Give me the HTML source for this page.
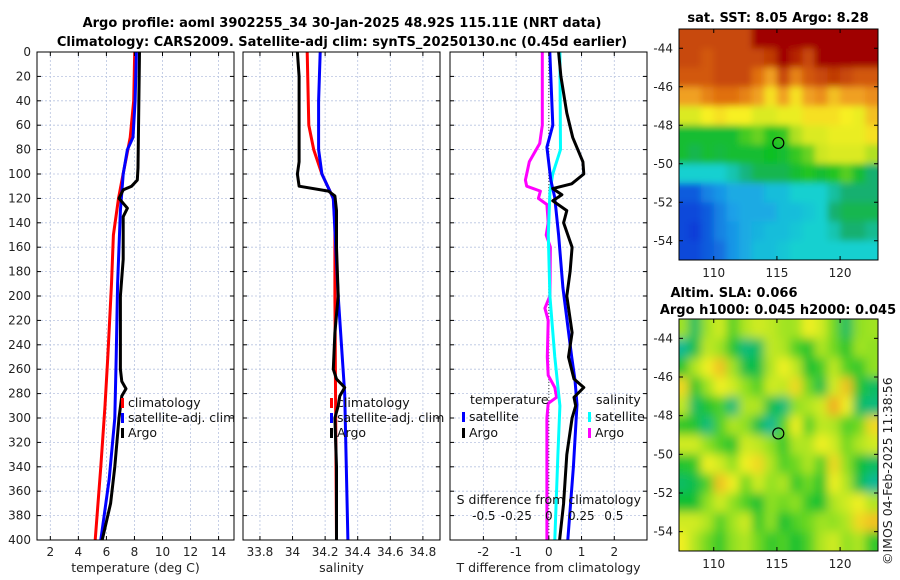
<!DOCTYPE html>
<html><head><meta charset="utf-8"><style>
body{margin:0;background:#fff;}
svg{display:block;font-family:"DejaVu Sans","Liberation Sans",sans-serif;}
</style></head><body>
<svg id="c" width="900" height="580" viewBox="0 0 900 580" xmlns="http://www.w3.org/2000/svg">
<defs>
<filter id="blr" x="0" y="0" width="1" height="1"><feGaussianBlur stdDeviation="5"/></filter>
<filter id="blr2" x="0" y="0" width="1" height="1"><feGaussianBlur stdDeviation="3.5"/></filter>
<clipPath id="clipTop"><rect x="679" y="29" width="199" height="231"/></clipPath>
<clipPath id="clipBot"><rect x="679" y="319" width="199" height="232"/></clipPath>
</defs>
<text x="342" y="27" text-anchor="middle" font-size="13" font-weight="bold">Argo profile: aoml 3902255_34 30-Jan-2025 48.92S 115.11E (NRT data)</text>
<text x="342" y="46" text-anchor="middle" font-size="13" font-weight="bold">Climatology: CARS2009. Satellite-adj clim: synTS_20250130.nc (0.45d earlier)</text>
<text x="778" y="22" text-anchor="middle" font-size="13" font-weight="bold">sat. SST: 8.05 Argo: 8.28</text>
<text x="734" y="297" text-anchor="middle" font-size="13" font-weight="bold">Altim. SLA: 0.066</text>
<text x="778" y="314" text-anchor="middle" font-size="13" font-weight="bold">Argo h1000: 0.045 h2000: 0.045</text>
<text transform="translate(892,565) rotate(-90)" font-size="12.5" fill="#222">©IMOS 04-Feb-2025 11:38:56</text>
<g id="g"></g>
</svg>
<script>
// ---------- data ----------
const depthTicks=[0,20,40,60,80,100,120,140,160,180,200,220,240,260,280,300,320,340,360,380,400];
const tempTicks=[2,4,6,8,10,12,14];
const salTicks=[33.8,34,34.2,34.4,34.6,34.8];
const tdiffTicks=[-2,-1,0,1,2];
const sdiffTicks=[-0.5,-0.25,0,0.25,0.5];
const sdiffTickLabels=["-0.5","-0.25","0","0.25","0.5"];

const climTDepth=[0,40,70,85,100,120,150,190,250,290,340,400];
const climTVal=[8.02,7.95,7.7,7.45,7.19,6.86,6.5,6.36,6.1,5.9,5.6,5.2];
const satTDepth=[0,40,70,80,100,130,190,250,300,350,400];
const satTVal=[8.14,8.05,7.9,7.5,7.2,7.0,6.8,6.7,6.6,6.2,5.6];
const argoTDepth=[0,50,95,105,110,113,120,128,135,140,170,200,240,260,270,276,282,300,340,370,400];
const argoTVal=[8.36,8.3,8.25,8.2,7.8,7.2,6.9,7.5,7.2,7.2,7.2,7.0,7.0,7.0,7.1,7.4,7.1,6.9,6.6,6.3,5.7];

const climSDepth=[0,60,80,100,120,140,200,300,400];
const climSVal=[34.09,34.1,34.13,34.18,34.25,34.26,34.26,34.265,34.27];
const satSDepth=[0,40,80,100,120,200,280,340,400];
const satSVal=[34.17,34.16,34.16,34.18,34.25,34.28,34.32,34.33,34.34];
const argoSDepth=[0,20,60,90,100,110,114,118,130,160,200,230,260,268,275,282,290,300,340,400];
const argoSVal=[34.03,34.04,34.04,34.04,34.03,34.04,34.22,34.26,34.27,34.27,34.28,34.26,34.25,34.27,34.32,34.29,34.28,34.26,34.27,34.27];

const dSatTDepth=[0,60,78,105,119,150,193,250,269,289,340,400];
const dSatTVal=[0.03,0.12,-0.06,0.06,0.18,0.3,0.43,0.7,0.8,0.86,0.75,0.58];
const dSatSDepth=[0,80,100,115,150,200,250,290,330,400];
const dSatSVal=[0.085,0.09,0.03,0.008,-0.004,0.008,0.046,0.085,0.07,0.046];
const dArgoTDepth=[0,20,50,70,90,100,108,112,117,122,130,140,160,180,200,230,250,268,275,283,290,300,330,370,400];
const dArgoTVal=[0.3,0.37,0.55,0.73,1.04,1.07,0.7,0.12,0.4,0.12,0.55,0.45,0.71,0.65,0.55,0.71,0.6,0.77,1.07,0.77,0.82,0.71,0.55,0.45,0.33];
const dArgoSDepth=[0,60,75,90,100,105,110,114,120,125,140,150,160,200,210,220,250,265,275,283,288,300,400];
const dArgoSVal=[-0.05,-0.05,-0.07,-0.15,-0.17,-0.18,-0.17,-0.065,-0.08,-0.015,-0.005,-0.02,0.012,0.008,-0.03,-0.005,-0.012,-0.005,0.046,0.06,-0.005,-0.015,-0.015];

const mapLons=[107,108,109,110,111,112,113,114,115,116,117,118,119,120,121,122];
const mapLats=[-43,-44,-45,-46,-47,-48,-49,-50,-51,-52,-53,-54];
const sstGrid=[
[11,11,11,11,11,11,12,12,12,12,12,12,12,12,12,12],
[11,11,10.8,11,11,11,11,11.2,12,11.5,11,12,12,12,12,12],
[10.8,10.8,10.8,11,11,11,10.5,10,11,10.3,10.8,11,11.2,11,10.8,10.8],
[10,10,10.3,10.5,10.5,10.3,10,9.6,10,9.6,10,10.2,9.8,10,10,10.2],
[9.3,9.3,9.5,9.6,9.5,9.5,9.3,9.3,9.4,9.4,9.6,9.6,9.6,9.5,9.4,9.8],
[8,8,8,8,8,8.4,8.6,8.2,8.3,9,9.3,9.3,9.4,9.4,9.4,9.6],
[8,7.8,8,7.9,8,8,8,8.1,8,8.3,8.6,9.2,9.3,9.3,9.3,9],
[7,7,7,7,7.2,7.5,7.8,7.8,7.8,8,8.2,8,8.2,8.5,8,7.6],
[5.8,5.8,6.2,6.4,6.6,6.6,6.6,6.8,6.8,7,7,7,7.3,7.6,7.6,7.6],
[5.6,5.6,5.8,6.2,6.5,6.6,6.6,6.6,6.8,6.8,6.9,7,7.6,7.8,7.8,7.8],
[5.6,5.5,5.8,6.2,6.4,6.6,6.7,6.8,6.8,6.9,7,7,7.2,7.6,7.6,7.4],
[5.6,5.6,5.8,6,6.4,6.6,6.8,6.8,6.9,7,7,7,7,7,7,7]];
const slaGrid=[
[0.03,-0.1,0.03,0.06,-0.02,0.04,0.06,0.05,0.03,0.03,0.08,0.06,0.0,-0.1,0.02,0.03],
[-0.14,-0.08,0.05,0.03,-0.05,-0.12,-0.1,0.05,0.04,-0.02,-0.05,0.04,0.0,-0.05,0.03,0.02],
[-0.05,0.04,0.08,0.12,0.03,-0.08,-0.08,0.04,0.08,0.05,-0.06,-0.03,0.05,-0.02,-0.04,0.02],
[0.1,-0.05,0.03,0.08,0.06,0.02,-0.02,0.06,0.05,0.1,0.0,-0.08,0.06,0.12,-0.05,-0.1],
[0.05,-0.1,-0.05,-0.02,-0.12,0.04,0.04,-0.08,-0.12,0.02,0.04,0.06,0.14,0.08,-0.1,-0.12],
[-0.04,-0.05,-0.12,-0.02,0.04,0.02,-0.08,-0.14,-0.02,0.08,-0.02,0.05,0.04,-0.02,0.0,0.1],
[0.06,0.06,0.02,-0.02,-0.05,0.06,0.05,0.02,-0.04,0.04,0.04,0.08,0.06,0.0,0.04,0.06],
[-0.05,-0.04,0.08,0.06,0.02,0.08,0.1,0.04,-0.02,0.0,0.04,-0.02,0.1,0.02,-0.06,-0.1],
[-0.1,-0.08,-0.02,0.12,0.08,0.0,0.06,0.02,0.04,-0.04,0.0,-0.05,0.08,0.04,-0.08,-0.14],
[-0.06,-0.06,0.02,0.06,0.02,-0.02,-0.06,0.02,0.0,0.02,-0.04,-0.06,0.04,0.06,0.08,0.04],
[0.06,0.06,0.04,-0.02,0.03,0.06,-0.04,0.02,-0.06,-0.02,0.0,0.03,0.02,0.04,0.1,0.12],
[0.08,0.04,0.0,-0.04,0.02,0.04,0.0,-0.04,-0.02,-0.06,-0.02,0.04,0.06,0.02,0.04,-0.04]];
const mapLatTicks=[-44,-46,-48,-50,-52,-54];
const mapLonTicks=[110,115,120];
const argoLon=115.11, argoLat=-48.92;

// ---------- helpers ----------
const NS="http://www.w3.org/2000/svg";
const G=document.getElementById('g');
function mk(tag,attrs,parent){const e=document.createElementNS(NS,tag);for(const k in attrs)e.setAttribute(k,attrs[k]);(parent||G).appendChild(e);return e;}
const PY0=52,PY1=540;
const yD=d=>PY0+(d/400)*(PY1-PY0);
const panels=[{x0:37,x1:234,lo:1.05,hi:15.1},{x0:243,x1:440,lo:33.696,hi:34.905},{x0:450,x1:647,lo:-3.02,hi:3.0}];
const xT=t=>panels[0].x0+(t-panels[0].lo)/(panels[0].hi-panels[0].lo)*(panels[0].x1-panels[0].x0);
const xS=s=>panels[1].x0+(s-panels[1].lo)/(panels[1].hi-panels[1].lo)*(panels[1].x1-panels[1].x0);
const xDT=v=>panels[2].x0+(v-panels[2].lo)/(panels[2].hi-panels[2].lo)*(panels[2].x1-panels[2].x0);
const xDS=v=>xDT(0)+v*130;

function grid(p,ticks,fx,name){
  const g=mk('g',{});
  
  
  ticks.forEach(t=>{const x=fx(t);mk('line',{x1:x,x2:x,y1:PY0,y2:PY1,stroke:'#b8c4e0','stroke-width':0.8,'stroke-dasharray':'2,2'},g);});
  depthTicks.forEach(d=>{const y=yD(d);mk('line',{x1:p.x0,x2:p.x1,y1:y,y2:y,stroke:'#b8c4e0','stroke-width':0.8,'stroke-dasharray':'2,2'},g);});
}
function frame(p,ticks,fx,labels,name,title){
  const g=mk('g',{});
  
  
  mk('rect',{x:p.x0,y:PY0,width:p.x1-p.x0,height:PY1-PY0,fill:'none',stroke:'#000','stroke-width':1},g);
  ticks.forEach((t,i)=>{const x=fx(t);
    mk('line',{x1:x,x2:x,y1:PY1,y2:PY1-4,stroke:'#000'},g);mk('line',{x1:x,x2:x,y1:PY0,y2:PY0+4,stroke:'#000'},g);
    const tx=mk('text',{x:x,y:556,'text-anchor':'middle','font-size':12,fill:'#222'},g);tx.textContent=labels[i];
    
    });
  depthTicks.forEach(d=>{const y=yD(d);mk('line',{x1:p.x0,x2:p.x0+4,y1:y,y2:y,stroke:'#000'},g);mk('line',{x1:p.x1,x2:p.x1-4,y1:y,y2:y,stroke:'#000'},g);});
  const tt=mk('text',{x:(p.x0+p.x1)/2,y:572,'text-anchor':'middle','font-size':12.5,fill:'#222'},g);tt.textContent=title;
  
  
}
function line(ds,vs,fx,color,name,w){
  const pts=ds.map((d,i)=>fx(vs[i]).toFixed(1)+','+yD(d).toFixed(1)).join(' ');
  const e=mk('polyline',{points:pts,fill:'none',stroke:color,'stroke-width':w||3,'stroke-linejoin':'round'});
  
  
}
function legend(x,y,color,label,name){
  const g=mk('g',{});
  
  
  mk('rect',{x:x,y:y-9,width:3,height:10,fill:color},g);
  const t=mk('text',{x:x+7,y:y,'font-size':12.5,fill:'#111'},g);t.textContent=label;
}

// ---------- profile panels ----------
grid(panels[0],tempTicks,xT,'temperature');
grid(panels[1],salTicks,xS,'salinity');
grid(panels[2],tdiffTicks,xDT,'difference');
mk('line',{x1:xDT(0),x2:xDT(0),y1:PY0,y2:PY1,stroke:'#444','stroke-width':1,'stroke-dasharray':'1,2'});

line(climTDepth,climTVal,xT,'#ff0000','temp-climatology-line');
line(satTDepth,satTVal,xT,'#0000ff','temp-satellite-adj-line');
line(argoTDepth,argoTVal,xT,'#000000','temp-argo-line');
line(climSDepth,climSVal,xS,'#ff0000','sal-climatology-line');
line(satSDepth,satSVal,xS,'#0000ff','sal-satellite-adj-line');
line(argoSDepth,argoSVal,xS,'#000000','sal-argo-line');
line(dArgoSDepth,dArgoSVal,xDS,'#ff00ff','sdiff-argo-line');
line(dSatSDepth,dSatSVal,xDS,'#00ffff','sdiff-satellite-line');
line(dSatTDepth,dSatTVal,xDT,'#0000ff','tdiff-satellite-line');
line(dArgoTDepth,dArgoTVal,xDT,'#000000','tdiff-argo-line');

frame(panels[0],tempTicks,xT,tempTicks.map(String),'temperature','temperature (deg C)');
frame(panels[1],salTicks,xS,salTicks.map(String),'salinity','salinity');
frame(panels[2],tdiffTicks,xDT,tdiffTicks.map(String),'tdiff','T difference from climatology');
depthTicks.forEach(d=>{const t=mk('text',{x:31,y:yD(d)+4,'text-anchor':'end','font-size':12,fill:'#222'});t.textContent=d;
  
  });
{const t=mk('text',{x:xDT(0),y:504,'text-anchor':'middle','font-size':12.5,fill:'#111'});t.textContent='S difference from climatology';
 
 }
sdiffTicks.forEach((v,i)=>{const t=mk('text',{x:xDS(v),y:520,'text-anchor':'middle','font-size':12,fill:'#111'});t.textContent=sdiffTickLabels[i];
 
 });

legend(121,407,'#ff0000','climatology','legend-climatology');
legend(121,422,'#0000ff','satellite-adj. clim','legend-satellite-adj');
legend(121,437,'#000000','Argo','legend-argo');
legend(330,407,'#ff0000','climatology','legend-sal-climatology');
legend(330,422,'#0000ff','satellite-adj. clim','legend-sal-satellite-adj');
legend(330,437,'#000000','Argo','legend-sal-argo');
{const t=mk('text',{x:470,y:404,'font-size':12.5,fill:'#111'});t.textContent='temperature';
 
 
 const s=mk('text',{x:596,y:404,'font-size':12.5,fill:'#111'});s.textContent='salinity';
 
 }
legend(462,421,'#0000ff','satellite','legend-tdiff-satellite');
legend(462,437,'#000000','Argo','legend-tdiff-argo');
legend(588,421,'#00ffff','satellite','legend-sdiff-satellite');
legend(588,437,'#ff00ff','Argo','legend-sdiff-argo');

// ---------- maps ----------
function lerpColor(stops,v){
  if(v<=stops[0][0])return stops[0][1];
  for(let i=1;i<stops.length;i++){if(v<=stops[i][0]){const a=stops[i-1],b=stops[i];const t=(v-a[0])/(b[0]-a[0]);
    return a[1].map((x,k)=>Math.round(x+(b[1][k]-x)*t));}}
  return stops[stops.length-1][1];
}
const sstStops=[[5.5,[10,62,216]],[6.5,[26,160,232]],[7,[24,208,208]],[7.6,[24,176,112]],[8.1,[16,192,32]],[9,[176,224,32]],[9.5,[248,240,32]],[10,[240,160,32]],[10.5,[224,112,16]],[11,[200,72,8]],[12,[160,0,0]]];
const slaStops=[[-0.15,[16,184,160]],[-0.06,[16,192,48]],[0.02,[144,224,32]],[0.08,[240,240,32]],[0.15,[240,160,32]]];
function drawMap(y0,y1,gridVals,stops,clip,filter,name){
  const x0=679,x1=878,lonLo=107.25,lonHi=123,latHi=-43,latLo=-55;
  const fx=l=>x0+(l-lonLo)/(lonHi-lonLo)*(x1-x0);
  const fy=l=>y0+(latHi-l)/(latHi-latLo)*(y1-y0);
  const outer=mk('g',{'clip-path':'url(#'+clip+')'});
  
  
  const g=mk('g',{filter:'url(#'+filter+')'},outer);
  gridVals.forEach((row,r)=>row.forEach((v,c)=>{
    const lon=mapLons[c],lat=mapLats[r];
    const xa=c===0?x0-20:fx(lon), xb=c===row.length-1?x1+20:fx(lon+1);
    const ya=r===0?y0-20:fy(lat), yb=r===gridVals.length-1?y1+20:fy(lat-1);
    const col=lerpColor(stops,v);
    const cell=mk('rect',{x:xa.toFixed(1),y:ya.toFixed(1),width:(xb-xa+0.6).toFixed(1),height:(yb-ya+0.6).toFixed(1),fill:'rgb('+col.join(',')+')'},g);
    
    
  }));
  const ax=mk('g',{});
  
  
  mk('rect',{x:x0,y:y0,width:x1-x0,height:y1-y0,fill:'none',stroke:'#000','stroke-width':1},ax);
  mapLatTicks.forEach(l=>{const y=fy(l);mk('line',{x1:x0,x2:x0+4,y1:y,y2:y,stroke:'#000'},ax);mk('line',{x1:x1,x2:x1-4,y1:y,y2:y,stroke:'#000'},ax);
    const t=mk('text',{x:x0-6,y:y+4,'text-anchor':'end','font-size':12,fill:'#222'},ax);t.textContent=l;});
  mapLonTicks.forEach(l=>{const x=fx(l);mk('line',{x1:x,x2:x,y1:y1,y2:y1-4,stroke:'#000'},ax);mk('line',{x1:x,x2:x,y1:y0,y2:y0+4,stroke:'#000'},ax);
    const t=mk('text',{x:x,y:y1+17,'text-anchor':'middle','font-size':12,fill:'#222'},ax);t.textContent=l;});
  const m=mk('circle',{cx:fx(argoLon),cy:fy(argoLat),r:5.5,fill:'none',stroke:'#000','stroke-width':1.2});
  
  
}
drawMap(29,260,sstGrid,sstStops,'clipTop','blr2','sst-map');
drawMap(319,551,slaGrid,slaStops,'clipBot','blr','sla-map');
</script>
</body></html>
